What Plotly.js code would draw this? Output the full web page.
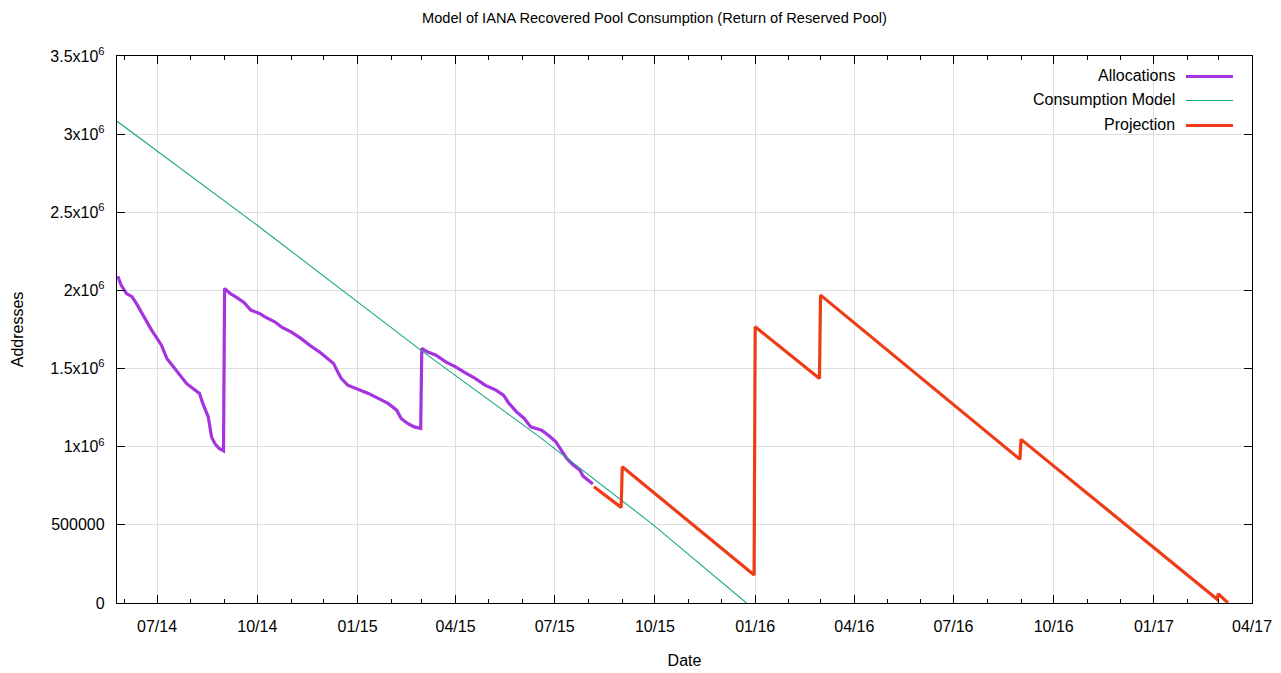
<!DOCTYPE html>
<html>
<head>
<meta charset="utf-8">
<script src="https://cdn.plot.ly/plotly-3.0.1.min.js"></script>
<style>
html,body{margin:0;padding:0;background:#fff;}
#chart{width:1281px;height:673px;}
</style>
</head>
<body>
<div id="chart"></div>
<script>
// ---------- data ----------
const allocDates = [
  "2014-05-26","2014-05-29","2014-06-03","2014-06-08","2014-06-12","2014-06-17","2014-06-21","2014-06-26",
  "2014-07-01","2014-07-05","2014-07-10","2014-07-16","2014-07-22","2014-07-28","2014-08-03","2014-08-09",
  "2014-08-12","2014-08-17","2014-08-20","2014-08-23","2014-08-27","2014-08-31",
  "2014-09-01","2014-09-06","2014-09-12","2014-09-19","2014-09-25","2014-10-03","2014-10-08","2014-10-17",
  "2014-10-23","2014-11-01","2014-11-10","2014-11-19","2014-11-27","2014-12-05","2014-12-10","2014-12-13",
  "2014-12-17","2014-12-23","2015-01-01","2015-01-11","2015-01-20","2015-01-29","2015-02-06","2015-02-10",
  "2015-02-16","2015-02-22","2015-02-28",
  "2015-03-01","2015-03-06","2015-03-14","2015-03-23","2015-04-01","2015-04-10","2015-04-19","2015-04-28",
  "2015-05-08","2015-05-15","2015-05-20","2015-05-27","2015-06-03","2015-06-09","2015-06-19","2015-06-26",
  "2015-07-02","2015-07-07","2015-07-12","2015-07-18","2015-07-24","2015-07-27","2015-07-31","2015-08-05"
];
const allocValues = [
  2091000,2034000,1980000,1960000,1917000,1853000,1800000,1746000,
  1693000,1650000,1565000,1511000,1458000,1405000,1373000,1341000,
  1277000,1191000,1063000,1021000,989000,974000,
  2013000,1981000,1955000,1921000,1874000,1853000,1831000,1799000,
  1767000,1735000,1693000,1644000,1607000,1565000,1533000,1490000,
  1437000,1394000,1369000,1341000,1309000,1277000,1234000,1181000,
  1149000,1127000,1117000,
  1629000,1607000,1586000,1543000,1511000,1473000,1437000,1394000,
  1362000,1330000,1277000,1223000,1181000,1127000,1106000,1068000,
  1032000,978000,925000,883000,851000,812000,791000,761000
];

const modelDates  = ["2014-05-25","2014-10-03","2015-02-28","2015-06-17","2015-09-30","2015-11-11","2015-12-24"];
const modelValues = [3084000,2406000,1618000,1063000,497000,254000,0];

const projDates  = ["2015-08-06","2015-08-31","2015-09-01","2015-12-31","2016-01-01","2016-02-29",
                    "2016-03-01","2016-08-31","2016-09-01","2017-02-28","2017-03-01","2017-03-10"];
const projValues = [744000,612000,872000,179000,1767000,1437000,1970000,919000,1047000,24000,58000,0];

const yTickVals = [0,500000,1000000,1500000,2000000,2500000,3000000,3500000];
const yTickText = ["0","500000","1x10<sup>6</sup>","1.5x10<sup>6</sup>","2x10<sup>6</sup>",
                   "2.5x10<sup>6</sup>","3x10<sup>6</sup>","3.5x10<sup>6</sup>"];

const seriesNames = ["Allocations","Consumption Model","Projection"];

const titleText  = "Model of IANA Recovered Pool Consumption (Return of Reserved Pool)";
const xTitleText = "Date";
const yTitleText = "Addresses";

// ---------- styles ----------
const colors = ["#a534e0","#16a786","#f03c16"];
const widths = [3.2,1.1,3.2];
const FONT = "Liberation Sans, Arial, Helvetica, sans-serif";

const traces = [
  {x: allocDates, y: allocValues, name: seriesNames[0]},
  {x: modelDates, y: modelValues, name: seriesNames[1]},
  {x: projDates,  y: projValues,  name: seriesNames[2]}
].map((t,i)=>Object.assign(t,{
  type:"scatter", mode:"lines", showlegend:false, cliponaxis:true,
  line:{color:colors[i], width:widths[i], shape:"linear"}
}));

// custom gnuplot-style key (text right, sample on the right)
const W = 1135, H = 547, L = 117, T = 56;
const px = x => (x - L) / W;
const py = y => 1 - (y - T) / H;
const keyRows = [76.5, 100.5, 125.5];
const annotations = seriesNames.map((n,i)=>({
  text:n, xref:"paper", yref:"paper", x:px(1176.5), y:py(keyRows[i]-1),
  xanchor:"right", yanchor:"middle", showarrow:false,
  font:{family:FONT, size:16, color:"#000"}
}));
const shapes = [
  {type:"rect", xref:"paper", yref:"paper", x0:px(1010), x1:1, y0:py(138), y1:1,
   fillcolor:"#ffffff", line:{width:0}, layer:"between"}
].concat(seriesNames.map((n,i)=>({
  type:"line", xref:"paper", yref:"paper", x0:px(1186), x1:px(1233),
  y0:py(keyRows[i]), y1:py(keyRows[i]), line:{color:colors[i], width:widths[i]}, layer:"above"
})));

const layout = {
  width:1281, height:673,
  margin:{l:L, r:1281-L-W, t:T, b:673-T-H, pad:0},
  paper_bgcolor:"#fff", plot_bgcolor:"#fff",
  font:{family:FONT, size:16, color:"#000"},
  showlegend:false,
  title:{text:titleText, xref:"container", yref:"container", x:654.5/1281, y:1-18/673,
         xanchor:"center", yanchor:"middle", font:{family:FONT, size:14.6, color:"#000"}},
  xaxis:{
    type:"date", range:["2014-05-25 06:00","2017-04-01"], autorange:false,
    tick0:"2014-01-01", dtick:"M3", tickformat:"%m/%y",
    ticks:"inside", ticklen:8, tickwidth:1, tickcolor:"#000",
    ticklabelstandoff:9,
    minor:{dtick:"M1", tick0:"2014-01-01", ticks:"inside", ticklen:4, tickwidth:1, tickcolor:"#000", showgrid:false},
    showgrid:true, gridcolor:"#dedede", gridwidth:1,
    showline:true, linecolor:"#000", linewidth:1.2, mirror:"allticks",
    zeroline:false, automargin:false,
    tickfont:{family:FONT, size:16, color:"#000"},
    title:{text:xTitleText, standoff:20, font:{family:FONT, size:16, color:"#000"}}
  },
  yaxis:{
    range:[0,3500000], autorange:false,
    tickmode:"array", tickvals:yTickVals, ticktext:yTickText,
    ticks:"inside", ticklen:8, tickwidth:1, tickcolor:"#000",
    ticklabelstandoff:8,
    showgrid:true, gridcolor:"#dedede", gridwidth:1,
    showline:true, linecolor:"#000", linewidth:1.2, mirror:"allticks",
    zeroline:false, automargin:false,
    tickfont:{family:FONT, size:16, color:"#000"},
    title:{text:yTitleText, standoff:22, font:{family:FONT, size:16, color:"#000"}}
  },
  annotations:annotations,
  shapes:shapes
};

Plotly.newPlot("chart", traces, layout, {displayModeBar:false, staticPlot:true});
</script>
</body>
</html>
